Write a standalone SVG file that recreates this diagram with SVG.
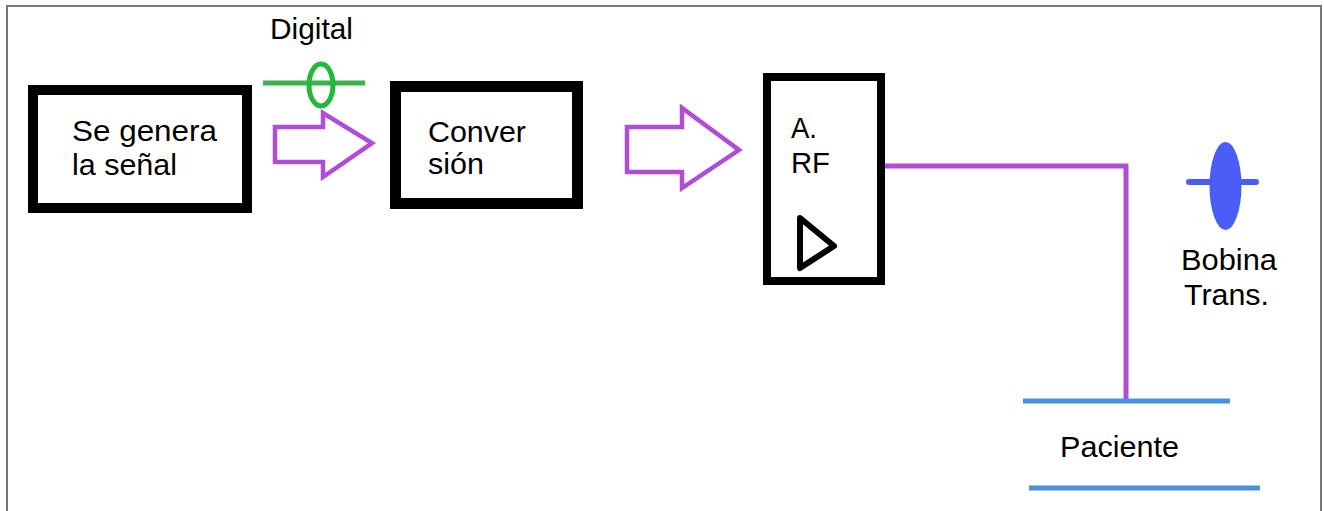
<svg xmlns="http://www.w3.org/2000/svg" width="1324" height="511" viewBox="0 0 1324 511">
<style>
.box{fill:#fff;stroke:#000}
.t{font-family:"Liberation Sans",Arial,sans-serif;font-size:30px;fill:#000}
.blk{fill:#fff;stroke:#b04cd8;stroke-width:4.5;stroke-linejoin:miter}
.wire{fill:none;stroke:#b04cd8;stroke-width:5}
.pat{stroke:#4a90e2;stroke-width:5}
</style>
<rect width="1324" height="511" fill="#fff"/>
<g id="frame" fill="none" stroke="#777" stroke-width="2">
<polyline points="7,511 7,6 1321,6 1321,511"/>
</g>
<g id="connectors">
<path class="wire" d="M884,166 H1126 V401"/>
<polygon class="blk" points="275,127 323,127 323,113 372,143 323,177 323,162 275,162"/>
<polygon class="blk" points="627,127 682,127 682,108 739,150 682,188 682,172 627,172"/>
</g>
<g id="digital">
<line x1="263" y1="83" x2="365" y2="83" stroke="#3cb34a" stroke-width="5"/>
<ellipse cx="321" cy="85" rx="12" ry="21" fill="none" stroke="#22b83a" stroke-width="5"/>
<text class="t" x="270" y="39" font-size="27" textLength="83" lengthAdjust="spacingAndGlyphs">Digital</text>
</g>
<g id="node-senal">
<rect class="box" x="33" y="90" width="214" height="118" stroke-width="10"/>
<text class="t" x="72" y="141" textLength="145" lengthAdjust="spacingAndGlyphs">Se genera</text>
<text class="t" x="72" y="175" textLength="105" lengthAdjust="spacingAndGlyphs">la señal</text>
</g>
<g id="node-conversion">
<rect class="box" x="395.5" y="86.5" width="182" height="117" stroke-width="11"/>
<text class="t" x="428" y="142" textLength="98" lengthAdjust="spacingAndGlyphs">Conver</text>
<text class="t" x="428" y="174" textLength="56" lengthAdjust="spacingAndGlyphs">sión</text>
</g>
<g id="node-arf">
<rect class="box" x="767" y="77" width="114" height="204" stroke-width="8"/>
<text class="t" x="791" y="138" textLength="26" lengthAdjust="spacingAndGlyphs">A.</text>
<text class="t" x="791" y="173" textLength="39" lengthAdjust="spacingAndGlyphs">RF</text>
<path d="M800,218 L834,246 L800,268 Z" fill="none" stroke="#000" stroke-width="6" stroke-linejoin="round"/>
</g>
<g id="node-bobina">
<line x1="1189" y1="182" x2="1256" y2="182" stroke="#4a5ef5" stroke-width="6" stroke-linecap="round"/>
<ellipse cx="1225.5" cy="186" rx="16" ry="44" fill="#4a5ef5"/>
<text class="t" x="1181" y="270" textLength="96" lengthAdjust="spacingAndGlyphs">Bobina</text>
<text class="t" x="1184" y="305" textLength="85" lengthAdjust="spacingAndGlyphs">Trans.</text>
</g>
<g id="node-paciente">
<line class="pat" x1="1023" y1="401" x2="1230" y2="401"/>
<line class="pat" x1="1029" y1="488" x2="1260" y2="488"/>
<text class="t" x="1060" y="457" textLength="119" lengthAdjust="spacingAndGlyphs">Paciente</text>
</g>
</svg>
